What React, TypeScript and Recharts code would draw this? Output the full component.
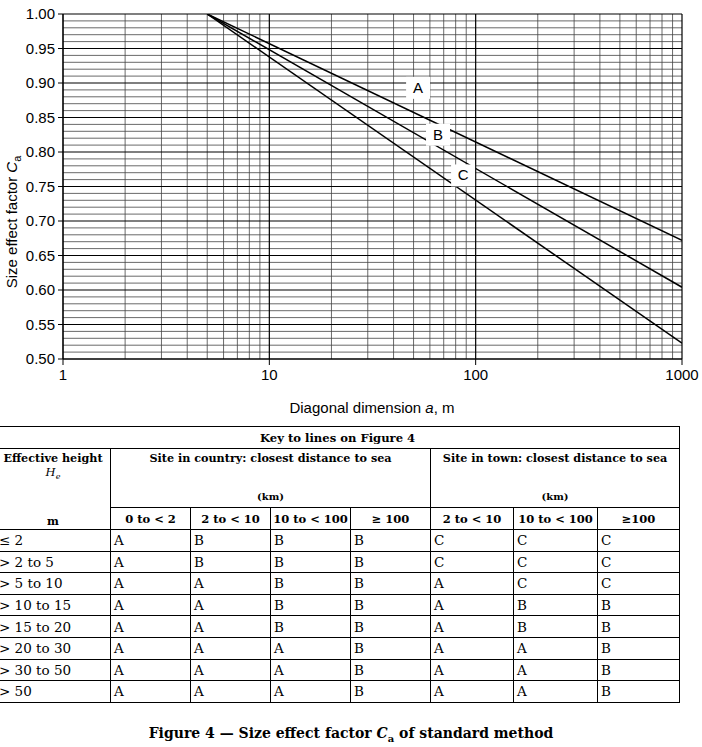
import React from 'react';
import { ComposedChart, Line, XAxis, YAxis, ReferenceLine, ReferenceDot, Label } from 'recharts';

// chart values
const X_TICKS = [1, 10, 100, 1000];
const Y_TICKS = [0.5, 0.55, 0.6, 0.65, 0.7, 0.75, 0.8, 0.85, 0.9, 0.95, 1.0];
const X_MINOR = [2, 3, 4, 5, 6, 7, 8, 9, 20, 30, 40, 50, 60, 70, 80, 90, 200, 300, 400, 500, 600, 700, 800, 900];
const Y_MINOR = [
  0.51, 0.52, 0.53, 0.54, 0.56, 0.57, 0.58, 0.59, 0.61, 0.62, 0.63, 0.64, 0.66, 0.67, 0.68, 0.69,
  0.71, 0.72, 0.73, 0.74, 0.76, 0.77, 0.78, 0.79, 0.81, 0.82, 0.83, 0.84, 0.86, 0.87, 0.88, 0.89,
  0.91, 0.92, 0.93, 0.94, 0.96, 0.97, 0.98, 0.99,
];
const LINE_NAMES = ['A', 'B', 'C'];
const LINE_START_X = 5;
const LINE_START_Y = 1.0;
const LINE_END_X = 1000;
const LINE_END_Y = [0.672, 0.604, 0.523];
const LABEL_X = [52.6, 65.7, 86.9];
const LABEL_Y = [0.893, 0.825, 0.766];

// table values
const HEIGHT_ROWS = ['≤ 2', '> 2 to 5', '> 5 to 10', '> 10 to 15', '> 15 to 20', '> 20 to 30', '> 30 to 50', '> 50'];
const COUNTRY_COLS = ['0 to < 2', '2 to < 10', '10 to < 100', '≥ 100'];
const TOWN_COLS = ['2 to < 10', '10 to < 100', '≥100'];
const KEY_COUNTRY = [
  ['A', 'B', 'B', 'B'],
  ['A', 'B', 'B', 'B'],
  ['A', 'A', 'B', 'B'],
  ['A', 'A', 'B', 'B'],
  ['A', 'A', 'B', 'B'],
  ['A', 'A', 'A', 'B'],
  ['A', 'A', 'A', 'B'],
  ['A', 'A', 'A', 'B'],
];
const KEY_TOWN = [
  ['C', 'C', 'C'],
  ['C', 'C', 'C'],
  ['A', 'C', 'C'],
  ['A', 'B', 'B'],
  ['A', 'B', 'B'],
  ['A', 'A', 'B'],
  ['A', 'A', 'B'],
  ['A', 'A', 'B'],
];

const SANS = '"Liberation Sans", Arial, sans-serif';
const SERIF = '"DejaVu Serif", serif';
const COL_WIDTHS = [115, 80, 80, 80, 80, 83, 84, 82];

const LineTag = (props: any) => {
  const { cx, cy, text } = props;
  return (
    <g>
      <rect x={cx - 12} y={cy - 11} width={24} height={22} fill="#fff" />
      <text x={cx} y={cy + 5} textAnchor="middle" fontFamily={SANS} fontSize={15} fill="#000">
        {text}
      </text>
    </g>
  );
};

const YTitle = () => {
  const cy = 222;
  const cx = 17;
  return (
    <text
      x={cx}
      y={cy}
      transform={`rotate(-90 ${cx} ${cy})`}
      textAnchor="middle"
      fontFamily={SANS}
      fontSize={15}
      fill="#000"
    >
      Size effect factor <tspan fontStyle="italic">C</tspan>
      <tspan fontSize={11} dy={4}>a</tspan>
    </text>
  );
};

const cell: React.CSSProperties = {
  border: '1px solid #000',
  padding: '0 3px',
  textAlign: 'left',
  verticalAlign: 'middle',
  fontSize: 13.5,
  lineHeight: '16px',
};
const head: React.CSSProperties = {
  border: '1px solid #000',
  fontWeight: 'bold',
  fontSize: 11.2,
  textAlign: 'center',
  padding: 0,
};

export default function App() {
  return (
    <div style={{ position: 'absolute', left: 0, top: 0, width: 702, height: 747, background: '#fff', overflow: 'hidden' }}>
      <ComposedChart width={702} height={420} margin={{ top: 14, right: 20, bottom: 31, left: 0 }}>
        <XAxis
          dataKey="x"
          type="number"
          scale="log"
          domain={[1, 1000]}
          ticks={X_TICKS}
          allowDataOverflow
          tickSize={6}
          tickMargin={4}
          height={30}
          stroke="#000"
          tick={{ fill: '#000', fontFamily: SANS, fontSize: 15 }}
        >
          <Label
            value="Diagonal dimension a, m"
            content={() => (
              <text x={372} y={413} textAnchor="middle" fontFamily={SANS} fontSize={15} fill="#000">
                Diagonal dimension <tspan fontStyle="italic">a</tspan>, m
              </text>
            )}
          />
        </XAxis>
        <YAxis
          type="number"
          domain={[0.5, 1]}
          ticks={Y_TICKS}
          allowDataOverflow
          width={63}
          tickSize={5}
          tickMargin={3}
          stroke="#000"
          tickFormatter={(v: number) => v.toFixed(2)}
          tick={{ fill: '#000', fontFamily: SANS, fontSize: 15 }}
        >
          <Label content={<YTitle />} />
        </YAxis>
        {Y_MINOR.map((v) => (
          <ReferenceLine key={'ym' + v} y={v} stroke="#444" strokeWidth={0.8} />
        ))}
        {X_MINOR.map((v) => (
          <ReferenceLine key={'xm' + v} x={v} stroke="#444" strokeWidth={0.8} />
        ))}
        {Y_TICKS.map((v) => (
          <ReferenceLine key={'yM' + v} y={v} stroke="#000" strokeWidth={1.2} />
        ))}
        {X_TICKS.map((v) => (
          <ReferenceLine key={'xM' + v} x={v} stroke="#000" strokeWidth={1.2} />
        ))}
        {LINE_NAMES.map((name, i) => (
          <Line
            key={name}
            data={[
              { x: LINE_START_X, y: LINE_START_Y },
              { x: LINE_END_X, y: LINE_END_Y[i] },
            ]}
            dataKey="y"
            stroke="#000"
            strokeWidth={1.5}
            dot={false}
            isAnimationActive={false}
          />
        ))}
        {LINE_NAMES.map((name, i) => (
          <ReferenceDot
            key={'lab' + name}
            x={LABEL_X[i]}
            y={LABEL_Y[i]}
            r={0}
            shape={(p: any) => <LineTag {...p} text={name} />}
          />
        ))}
      </ComposedChart>

      <table
        style={{
          position: 'absolute',
          left: -5,
          top: 426,
          borderCollapse: 'collapse',
          tableLayout: 'fixed',
          width: 685,
          fontFamily: SERIF,
          color: '#000',
        }}
      >
        <colgroup>
          {COL_WIDTHS.map((w, i) => (
            <col key={i} style={{ width: w }} />
          ))}
        </colgroup>
        <tbody>
          <tr style={{ height: 22 }}>
            <td colSpan={8} style={{ ...head, fontSize: 11.6 }}>
              Key to lines on Figure 4
            </td>
          </tr>
          <tr style={{ height: 59 }}>
            <td rowSpan={2} style={{ ...head, verticalAlign: 'top', paddingTop: 2 }}>
              <div>Effective height</div>
              <div style={{ fontStyle: 'italic', fontWeight: 'normal', fontSize: 11.5, marginTop: 0 }}>
                H<sub style={{ fontSize: 8 }}>e</sub>
              </div>
              <div style={{ marginTop: 33 }}>m</div>
            </td>
            <td colSpan={4} style={{ ...head, verticalAlign: 'top', paddingTop: 2 }}>
              <div>Site in country: closest distance to sea</div>
              <div style={{ marginTop: 26, fontSize: 10 }}>(km)</div>
            </td>
            <td colSpan={3} style={{ ...head, verticalAlign: 'top', paddingTop: 2 }}>
              <div>Site in town: closest distance to sea</div>
              <div style={{ marginTop: 26, fontSize: 10 }}>(km)</div>
            </td>
          </tr>
          <tr style={{ height: 22 }}>
            {COUNTRY_COLS.concat(TOWN_COLS).map((c, i) => (
              <td key={i} style={{ ...head, fontSize: 11.5 }}>
                {c}
              </td>
            ))}
          </tr>
          {HEIGHT_ROWS.map((h, r) => (
            <tr key={h} style={{ height: 21.6 }}>
              <td style={{ ...cell, paddingLeft: 3 }}>{h}</td>
              {KEY_COUNTRY[r].concat(KEY_TOWN[r]).map((k, c) => (
                <td key={c} style={cell}>
                  {k}
                </td>
              ))}
            </tr>
          ))}
        </tbody>
      </table>

      <div
        style={{
          position: 'absolute',
          left: 0,
          top: 725,
          width: 702,
          textAlign: 'center',
          fontFamily: SERIF,
          fontWeight: 'bold',
          fontSize: 14,
          color: '#000',
        }}
      >
        Figure 4 — Size effect factor <i>C</i>
        <sub style={{ fontSize: 10 }}>a</sub> of standard method
      </div>
    </div>
  );
}
